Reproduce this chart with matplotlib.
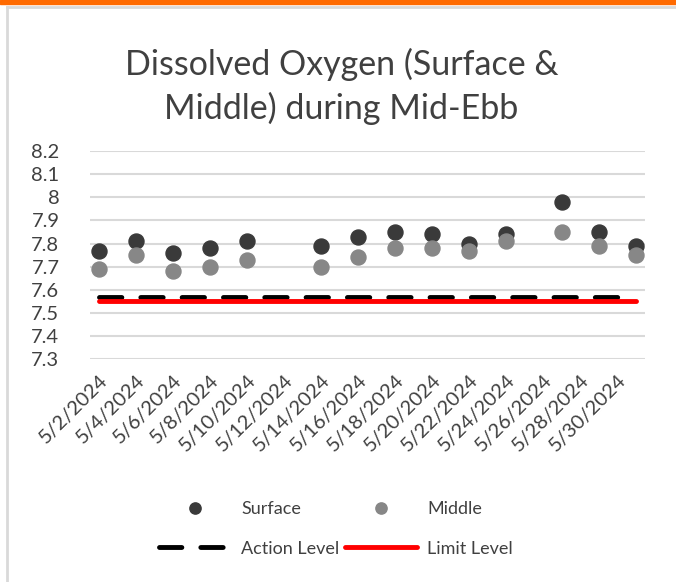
import matplotlib.pyplot as plt
import matplotlib.dates as mdates
from matplotlib.lines import Line2D
from matplotlib.patches import Rectangle
from datetime import datetime

plt.rcParams['font.family'] = ['Lato', 'DejaVu Sans']

# sample dates (May 2024) and readings
days = [2, 4, 6, 8, 10, 14, 16, 18, 20, 22, 24, 27, 29, 31]
surface = [7.77, 7.81, 7.76, 7.78, 7.81, 7.79, 7.83, 7.85, 7.84, 7.80, 7.84, 7.98, 7.85, 7.79]
middle = [7.69, 7.75, 7.68, 7.70, 7.73, 7.70, 7.74, 7.78, 7.78, 7.77, 7.81, 7.85, 7.79, 7.75]
action_level = 7.57
limit_level = 7.55
tick_days = list(range(2, 31, 2))
y_ticks = [7.3, 7.4, 7.5, 7.6, 7.7, 7.8, 7.9, 8, 8.1, 8.2]
y_labels = ['7.3', '7.4', '7.5', '7.6', '7.7', '7.8', '7.9', '8', '8.1', '8.2']

dates = [datetime(2024, 5, d) for d in days]
tick_dates = [datetime(2024, 5, d) for d in tick_days]

fig = plt.figure(figsize=(6.76, 5.82), dpi=100)

# orange strip and grey frame
fig.patches.append(Rectangle((0, 1 - 4 / 582), 1, 4 / 582, transform=fig.transFigure,
                             color='#FF6A00', zorder=0))
fig.lines.append(Line2D([7 / 676, 7 / 676], [0, 1 - 7 / 582], transform=fig.transFigure,
                        color='#D9D9D9', lw=2))
fig.lines.append(Line2D([7 / 676, 1], [1 - 7 / 582, 1 - 7 / 582], transform=fig.transFigure,
                        color='#D9D9D9', lw=2))

ax = fig.add_axes([90 / 676, 1 - 359.3 / 582, 555 / 676, 208.3 / 582])

ax.plot([dates[0], dates[-1]], [action_level] * 2, color='black', lw=3.5,
        linestyle=(0, (4.6, 3.9)), dash_capstyle='round', zorder=3, label='Action Level')
ax.plot([dates[0], dates[-1]], [limit_level] * 2, color='#FF0000', lw=3.5,
        solid_capstyle='round', zorder=3, label='Limit Level')
ax.plot(dates, surface, 'o', color='#3A3A3A', markersize=10.8, zorder=4, label='Surface')
ax.plot(dates, middle, 'o', color='#878787', markersize=10.8, zorder=5, label='Middle')

ax.set_ylim(7.3, 8.2)
ax.set_yticks(y_ticks)
ax.set_yticklabels(y_labels)
ax.set_xlim(datetime(2024, 5, 1, 12), datetime(2024, 5, 31, 12))
ax.set_xticks(tick_dates)
ax.xaxis.set_major_formatter(mdates.DateFormatter('%-m/%-d/%Y'))
ax.grid(axis='y', color='#D9D9D9', lw=1.5)
ax.set_axisbelow(True)
for s in ax.spines.values():
    s.set_visible(False)
ax.tick_params(length=0, labelsize=14.5, colors='#404040')
ax.tick_params(axis='x', pad=9)
ax.tick_params(axis='y', pad=22)
for lab in ax.get_xticklabels():
    lab.set_rotation(45)
    lab.set_ha('right')
    lab.set_rotation_mode('anchor')

fig.text(0.505, 1 - 86 / 582, 'Dissolved Oxygen (Surface &\nMiddle) during Mid-Ebb',
         ha='center', va='center', fontsize=24.5, color='#404040', linespacing=1.4)

h, l = ax.get_legend_handles_labels()
order = [2, 0, 3, 1]
fig.legend([h[i] for i in order], [l[i] for i in order], ncol=2, frameon=False,
           loc='center', bbox_to_anchor=(0.497, 1 - 529 / 582), fontsize=13,
           labelcolor='#404040', handlelength=4.0, columnspacing=0.3,
           handletextpad=0.55, labelspacing=1.3, markerscale=0.75)

fig.savefig('out.png', dpi=100)
